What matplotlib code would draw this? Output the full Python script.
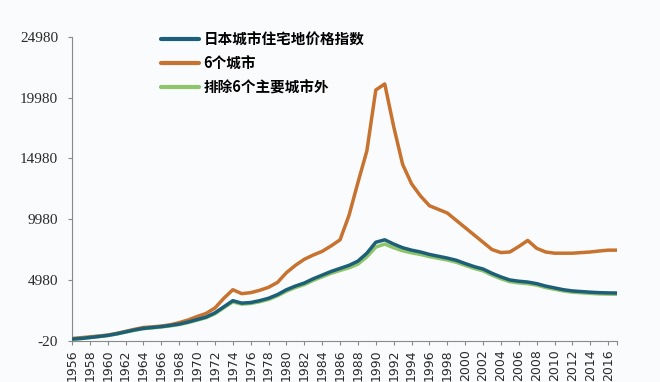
import matplotlib
matplotlib.use("Agg")
import matplotlib.pyplot as plt
import numpy as np

years = list(range(1956, 2018))

six_cities = [200, 260, 330, 400, 480, 620, 780, 950, 1100, 1150,
              1220, 1320, 1500, 1720, 2000, 2250, 2700, 3500, 4200, 3880,
              3960, 4150, 4400, 4800, 5600, 6200, 6700, 7050, 7350, 7800,
              8300, 10300, 13000, 15600, 20600, 21100, 17600, 14500, 12900, 11900,
              11100, 10800, 10500, 9900, 9300, 8700, 8100, 7500, 7250, 7300,
              7750, 8250, 7600, 7300, 7200, 7200, 7200, 7250, 7300, 7380,
              7450, 7450]

japan_index = [150, 200, 280, 360, 450, 580, 740, 900, 1030, 1100,
               1170, 1270, 1380, 1550, 1750, 1950, 2300, 2800, 3300, 3100,
               3150, 3300, 3500, 3800, 4200, 4500, 4750, 5100, 5400, 5700,
               5950, 6200, 6550, 7200, 8100, 8300, 7950, 7650, 7450, 7300,
               7100, 6950, 6800, 6620, 6350, 6100, 5900, 5550, 5250, 5000,
               4900, 4830, 4700, 4500, 4350, 4200, 4100, 4050, 4000, 3960,
               3940, 3930]

excl_six = [140, 190, 270, 350, 440, 560, 720, 870, 1000, 1070,
            1140, 1230, 1340, 1500, 1700, 1900, 2230, 2720, 3200, 3020,
            3070, 3210, 3400, 3700, 4080, 4380, 4620, 4970, 5260, 5550,
            5780, 6000, 6300, 6900, 7700, 7950, 7650, 7400, 7230, 7100,
            6920, 6780, 6640, 6460, 6200, 5950, 5750, 5400, 5100, 4860,
            4760, 4700, 4580, 4380, 4240, 4100, 4000, 3950, 3900, 3860,
            3840, 3830]

labels = ["日本城市住宅地价格指数", "6个城市", "排除6个主要城市外"]
yticks = [-20, 4980, 9980, 14980, 19980, 24980]

plt.rcParams['font.family'] = ['Noto Sans CJK SC', 'DejaVu Sans']

fig = plt.figure(figsize=(6.6, 3.82), dpi=100)
fig.patch.set_facecolor('#fafbfd')
ax = fig.add_axes([0.109, 0.107, 0.826, 0.797])
ax.set_facecolor('#fafbfd')

c_blue = '#1d5f78'
c_orange = '#c8722f'
c_green = '#8fc56a'

ax.plot(years, six_cities, color=c_orange, lw=2.5, label=labels[1], zorder=3,
        solid_joinstyle='round', solid_capstyle='round')
ax.plot(years, excl_six, color=c_green, lw=2.5, label=labels[2], zorder=3,
        solid_joinstyle='round', solid_capstyle='round')
ax.plot(years, japan_index, color=c_blue, lw=2.5, label=labels[0], zorder=4,
        solid_joinstyle='round', solid_capstyle='round')

ax.set_xlim(1956, 2017)
ax.set_ylim(-20, 24980)
ax.set_yticks(yticks)
ax.set_yticklabels([str(v) for v in yticks], family='Liberation Serif', fontsize=11, color='#2a2a2a')
ax.set_xticks(years[::2] + [2017])
ax.set_xticklabels([str(y) for y in years[::2]] + [''],
                   rotation=90, family='DejaVu Sans', fontsize=9, color='#2a2a2a')
for s in ['top', 'right']:
    ax.spines[s].set_visible(False)
for s in ['left', 'bottom']:
    ax.spines[s].set_color('#8a8a8a')
ax.tick_params(axis='both', colors='#8a8a8a', labelcolor='#2a2a2a', length=3)
ax.tick_params(axis='y', pad=7)
ax.tick_params(axis='x', pad=3)

handles, labs = ax.get_legend_handles_labels()
order = [2, 0, 1]
leg = ax.legend([handles[i] for i in order], [labs[i] for i in order],
                loc='upper left', bbox_to_anchor=(0.14, 1.06), frameon=False,
                handlelength=2.6, handletextpad=0.3, labelspacing=0.55,
                prop={'family': ['Noto Sans CJK SC', 'DejaVu Sans'], 'weight': 'bold', 'size': 10.5})
for line in leg.get_lines():
    line.set_linewidth(3)

fig.savefig('out.png', dpi=100, facecolor=fig.get_facecolor())
